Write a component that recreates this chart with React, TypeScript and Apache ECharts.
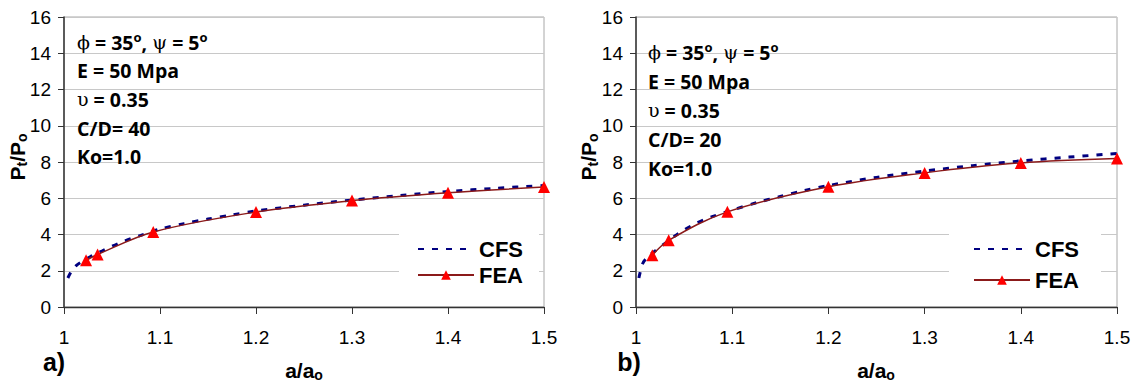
import React, { useEffect, useRef } from "react";
import * as echarts from "echarts";

// ---- axis ranges ----
const X_MIN = 1;
const X_MAX = 1.5;
const X_STEP = 0.1;
const Y_MIN = 0;
const Y_MAX = 16;
const Y_STEP = 2;

// ---- series names / labels ----
const seriesNames = ["CFS", "FEA"];
const panelTags = ["a)", "b)"];
const xTitle = "{m|a/a}{s|o}";
const yTitle = "{m|P}{s|t}{m|/P}{s|o}";

// ---- panel a) C/D = 40 ----
const cfsA40 = [1.004, 1.008, 1.013, 1.02, 1.03, 1.04, 1.05, 1.06, 1.07, 1.08, 1.1, 1.125, 1.15, 1.175, 1.2, 1.25, 1.3, 1.35, 1.4, 1.45, 1.5];
const cfsP40 = [1.6, 2.0, 2.3, 2.55, 2.85, 3.1, 3.35, 3.58, 3.78, 3.95, 4.3, 4.6, 4.85, 5.08, 5.3, 5.62, 5.9, 6.15, 6.37, 6.55, 6.7];
const feaA40 = [1.023, 1.035, 1.093, 1.2, 1.3, 1.4, 1.5];
const feaP40 = [2.58, 2.9, 4.14, 5.24, 5.87, 6.3, 6.62];

// ---- panel b) C/D = 20 ----
const cfsA20 = [1.003, 1.007, 1.012, 1.02, 1.03, 1.04, 1.05, 1.06, 1.07, 1.08, 1.1, 1.125, 1.15, 1.175, 1.2, 1.25, 1.3, 1.35, 1.4, 1.45, 1.5];
const cfsP20 = [1.6, 2.4, 2.75, 3.1, 3.5, 3.9, 4.25, 4.55, 4.8, 5.0, 5.35, 5.75, 6.1, 6.42, 6.7, 7.15, 7.5, 7.8, 8.06, 8.27, 8.47];
const feaA20 = [1.017, 1.034, 1.095, 1.2, 1.3, 1.4, 1.5];
const feaP20 = [2.86, 3.68, 5.25, 6.63, 7.4, 7.95, 8.19];

// ---- annotation texts ----
const angleLine = "{g|ϕ}{b| = 35}{sup|o}{b|, }{g|ψ}{b| = 5}{sup|o}";
const paramsA = ["{b|E = 50 Mpa}", "{g|υ}{b| = 0.35}", "{b|C/D= 40}", "{b|Ko=1.0}"];
const paramsB = ["{b|E = 50 Mpa}", "{g|υ}{b| = 0.35}", "{b|C/D= 20}", "{b|Ko=1.0}"];

const zip = (a: number[], b: number[]) => a.map((v, i) => [v, b[i]]);

const annRich = {
  b: { fontFamily: "Open Sans", fontWeight: "bold", fontSize: 19.5, fill: "#000" },
  g: { fontFamily: "DejaVu Serif", fontSize: 19, fill: "#000" },
  sup: { fontFamily: "Open Sans", fontWeight: "bold", fontSize: 13, padding: [0, 0, 11, 0], verticalAlign: "top", fill: "#000" },
};

const titleRich = {
  m: { fontFamily: "Liberation Sans", fontWeight: "bold", fontSize: 21, fill: "#000" },
  s: { fontFamily: "Liberation Sans", fontWeight: "bold", fontSize: 14, padding: [9, 0, 0, 0], verticalAlign: "bottom", fill: "#000" },
};

function makeAxes(gridIndex: number) {
  const x = {
    type: "value",
    gridIndex,
    min: X_MIN,
    max: X_MAX,
    interval: X_STEP,
    axisLine: { show: true, onZero: false, lineStyle: { color: "#333", width: 1.3 } },
    axisTick: { show: true, inside: false, length: 7, lineStyle: { color: "#333", width: 1 } },
    axisLabel: { margin: 21, fontFamily: "Liberation Sans", fontSize: 19, color: "#000" },
    splitLine: { show: false },
  };
  const y = {
    type: "value",
    gridIndex,
    min: Y_MIN,
    max: Y_MAX,
    interval: Y_STEP,
    axisLine: { show: true, lineStyle: { color: "#333", width: 1.5 } },
    axisTick: { show: true, inside: false, length: 6, lineStyle: { color: "#333", width: 1 } },
    axisLabel: { margin: 13, fontFamily: "Liberation Sans", fontSize: 19, color: "#000" },
    splitLine: { show: true, lineStyle: { color: "#c8c8c8", width: 1 } },
  };
  return { x, y };
}

function makeSeries(idx: number, cfs: number[][], fea: number[][]) {
  return [
    {
      name: seriesNames[0],
      type: "line",
      xAxisIndex: idx,
      yAxisIndex: idx,
      data: cfs,
      smooth: 0.3,
      symbol: "none",
      lineStyle: { color: "#000080", width: 3, type: [6, 8] },
      itemStyle: { color: "#000080" },
      z: 3,
    },
    {
      name: seriesNames[1],
      type: "line",
      xAxisIndex: idx,
      yAxisIndex: idx,
      data: fea,
      smooth: 0.35,
      symbol: "triangle",
      symbolSize: 12,
      lineStyle: { color: "#8b1a1a", width: 1.5 },
      itemStyle: { color: "#ff0000" },
      z: 4,
    },
  ];
}

function annotation(x: number, y0: number, step: number, params: string[]) {
  const lines = [angleLine, ...params];
  return lines.map((t, i) => ({
    type: "text",
    x,
    y: y0 + i * step,
    z: 10,
    style: { text: t, rich: annRich, textAlign: "left", textVerticalAlign: "middle" },
  }));
}

export default function App() {
  const ref = useRef<HTMLDivElement>(null);

  useEffect(() => {
    if (!ref.current) return;
    const chart = echarts.init(ref.current, null, { renderer: "svg" });
    const a0 = makeAxes(0);
    const a1 = makeAxes(1);

    const legendText = { fontFamily: "Liberation Sans", fontWeight: "bold", fontSize: 22, color: "#000" };
    const legendData = [
      { name: seriesNames[0], itemStyle: { opacity: 0 } },
      { name: seriesNames[1] },
    ];

    chart.setOption({
      animation: false,
      backgroundColor: "#fff",
      grid: [
        { left: 64, top: 17, width: 480, height: 290, show: true, borderColor: "#a8a8a8", borderWidth: 1, backgroundColor: "transparent" },
        { left: 636, top: 17, width: 481, height: 290, show: true, borderColor: "#a8a8a8", borderWidth: 1, backgroundColor: "transparent" },
      ],
      xAxis: [a0.x, a1.x],
      yAxis: [a0.y, a1.y],
      legend: [
        {
          orient: "vertical",
          left: 399,
          top: 231,
          data: legendData,
          itemWidth: 56,
          itemHeight: 12,
          itemGap: 4,
          padding: [7, 16, 8, 18],
          backgroundColor: "#fff",
          selectedMode: false,
          textStyle: legendText,
        },
        {
          orient: "vertical",
          left: 949,
          top: 230,
          data: legendData,
          itemWidth: 56,
          itemHeight: 12,
          itemGap: 9,
          padding: [8, 22, 8, 24],
          backgroundColor: "#fff",
          selectedMode: false,
          textStyle: legendText,
        },
      ],
      series: [
        ...makeSeries(0, zip(cfsA40, cfsP40), zip(feaA40, feaP40)),
        ...makeSeries(1, zip(cfsA20, cfsP20), zip(feaA20, feaP20)),
      ],
      graphic: {
        elements: [
          ...annotation(77, 42, 28.7, paramsA),
          ...annotation(648, 52, 29, paramsB),
          {
            type: "text", x: 17, y: 157, rotation: Math.PI / 2, z: 10,
            style: { text: yTitle, rich: titleRich, textAlign: "center", textVerticalAlign: "middle" },
          },
          {
            type: "text", x: 588, y: 157, rotation: Math.PI / 2, z: 10,
            style: { text: yTitle, rich: titleRich, textAlign: "center", textVerticalAlign: "middle" },
          },
          {
            type: "text", x: 304, y: 370, z: 10,
            style: { text: xTitle, rich: titleRich, textAlign: "center", textVerticalAlign: "middle" },
          },
          {
            type: "text", x: 876, y: 370, z: 10,
            style: { text: xTitle, rich: titleRich, textAlign: "center", textVerticalAlign: "middle" },
          },
          {
            type: "text", x: 54, y: 362, z: 10,
            style: { text: panelTags[0], fill: "#000", font: "bold 25px 'Liberation Sans'", textAlign: "center", textVerticalAlign: "middle" },
          },
          {
            type: "text", x: 629, y: 362, z: 10,
            style: { text: panelTags[1], fill: "#000", font: "bold 25px 'Liberation Sans'", textAlign: "center", textVerticalAlign: "middle" },
          },
        ],
      },
    });
    return () => chart.dispose();
  }, []);

  return (
    <div
      ref={ref}
      style={{ position: "absolute", left: 0, top: 0, width: 1138, height: 383, background: "#fff" }}
    />
  );
}
